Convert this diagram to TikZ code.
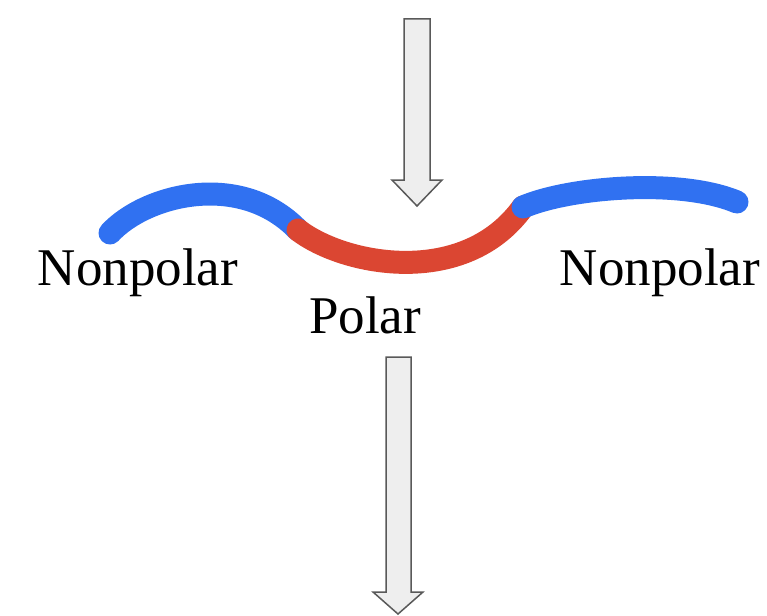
\documentclass[tikz,border=0pt]{standalone}
\usepackage{fontspec}
\setmainfont{Liberation Serif}
\definecolor{chainblue}{RGB}{48,113,241}
\definecolor{chainred}{RGB}{219,70,50}
\definecolor{arrowfill}{RGB}{238,238,238}
\definecolor{arrowline}{RGB}{89,89,89}
\begin{document}
\begin{tikzpicture}[x=1pt,y=-1pt,
  seg/.style={line width=23pt,line cap=round},
  bigarrow/.style={fill=arrowfill,draw=arrowline,line width=1.5pt,line join=miter},
  lbl/.style={font=\fontsize{53}{60}\selectfont,anchor=base,inner sep=0pt}]
\useasboundingbox (0,0) rectangle (767,615);
% top arrow
\draw[bigarrow] (404,19) -- (430,19) -- (430,180) -- (442,180) -- (417,206) -- (392,180) -- (404,180) -- cycle;
% bottom arrow
\draw[bigarrow] (386,357) -- (411,357) -- (411,592) -- (423,592) -- (398,614) -- (373,592) -- (386,592) -- cycle;
% chain
\coordinate (a) at (110,233);
\coordinate (b) at (298,230);
\coordinate (c) at (523,207);
\coordinate (d) at (737,202);
\draw[seg,chainblue] (a) .. controls (145,195) and (240,170) .. (b);
\draw[seg,chainred] (b) .. controls (345,266) and (465,288) .. (c);
\draw[seg,chainblue] (c) .. controls (570,187) and (680,178) .. (d);
% labels
\node[lbl] (np1) at (138,285) {Nonpolar};
\node[lbl] (np2) at (660,285) {Nonpolar};
\node[lbl] (pol) at (365,333) {Polar};
\end{tikzpicture}
\end{document}
